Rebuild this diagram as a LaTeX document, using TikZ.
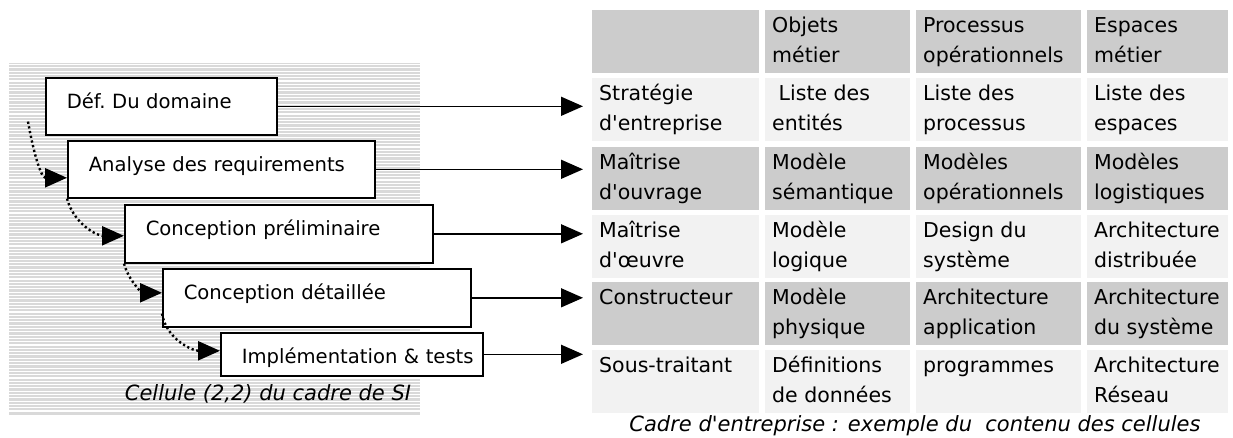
\documentclass[tikz,border=0pt]{standalone}
\usepackage{fontspec}
\setmainfont{DejaVu Sans}
\usetikzlibrary{arrows.meta, calc}

\definecolor{celldark}{HTML}{CCCCCC}
\definecolor{celllight}{HTML}{F2F2F2}
\definecolor{stripe}{HTML}{D9D9D9}

\newcommand{\cellstrut}{\rule{0pt}{17pt}}

\begin{document}
\begin{tikzpicture}[
      x=1pt, y=-1pt, % pixel coordinates, y downwards
      >={Triangle[length=22pt, width=19pt]}, % Default arrow tip
      stage/.style n args={2}{draw, line width=1.6pt, fill=white, anchor=north west,
        inner ysep=0pt, inner xsep=21pt, align=left, text width=#1, text height=30.5pt,
        text depth=#2, font=\fontsize{19.6}{30}\selectfont}, % boxes of the cycle
      flow/.style={line width=1.4pt, ->, shorten >=16pt}, % box to row
      next/.style={line width=2.4pt, dash pattern=on 2.2pt off 2.6pt, ->}, % box to box
      cell/.style={anchor=north west, inner sep=0pt, align=left,
        font=\fontsize{20.5}{30}\selectfont}, % table text
      caption/.style={anchor=base, font=\fontsize{21}{25}\selectfont\itshape},
    ]
    \useasboundingbox (0,0) rectangle (1233,437);

    % Schraffierter Hintergrund
    \fill[stripe] (9,63) rectangle (420,415);
    \foreach \k in {0,...,105}
    \draw[white, line width=1.1pt] (9,64.5+3.3*\k) -- (420,64.5+3.3*\k);

    % Kasten der Stufen
    \node[stage={189pt}{26.5pt}] (def) at (45,77) {Déf.~Du~domaine};
    \node[stage={265pt}{26.5pt}] (ana) at (67,140) {Analyse~des~requirements};
    \node[stage={266pt}{27.5pt}] (pre) at (124,204) {Conception~préliminaire};
    \node[stage={266pt}{27.5pt}] (det) at (162,268) {Conception~détaillée};
    \node[stage={220pt}{12.5pt}] (imp) at (220,332) {Implémentation~\&~tests};

    \node[caption] (cellcap) at (268,400) {Cellule (2,2) du cadre de SI};

    % Zellen der Tabelle
    \foreach \r/\ytop/\col in {0/10/celldark, 1/78/celllight, 2/147/celldark,
        3/215/celllight, 4/282/celldark, 5/350/celllight}
    \foreach \x/\w in {592/167, 765/145, 916/165, 1087/141}
    \fill[\col] (\x,\ytop) rectangle ++(\w,63);

    \foreach \r/\ytop/\ta/\tb/\tc/\td in {
        0/10/{}/{Objets\\métier}/{Processus\\opérationnels}/{Espaces\\métier},
        1/78/{Stratégie\\d\textquotesingle entreprise}/{\ Liste des\\entités}/{Liste des\\processus}/{Liste des\\espaces},
        2/147/{Maîtrise\\d\textquotesingle ouvrage}/{Modèle\\sémantique}/{Modèles\\opérationnels}/{Modèles\\logistiques},
        3/215/{Maîtrise\\d\textquotesingle œuvre}/{Modèle\\logique}/{Design du\\système}/{Architecture\\distribuée},
        4/282/{Constructeur}/{Modèle\\physique}/{Architecture\\application}/{Architecture\\du système},
        5/350/{Sous-traitant}/{Définitions\\de données}/{programmes}/{Architecture\\Réseau}}
    {
      \node[cell] (c\r-0) at (599,\ytop+5) {\cellstrut\ta};
      \node[cell] (c\r-1) at (772,\ytop+5) {\cellstrut\tb};
      \node[cell] (c\r-2) at (923,\ytop+5) {\cellstrut\tc};
      \node[cell] (c\r-3) at (1094,\ytop+5) {\cellstrut\td};
    }

    \node[caption] (framecap) at (915,431) {Cadre d\textquotesingle entreprise : exemple du~ contenu des cellules};

    % Pfeile zur Tabelle
    \foreach \b/\r in {def/1, ana/2, pre/3, det/4, imp/5}
    \draw[flow] (\b.east) -- (\b.east -| c\r-0.west);

    % Punktierte Pfeile zwischen den Stufen
    \draw[next] ([xshift=-17pt, yshift=14pt]def.south west) to[out=-80, in=180] ([yshift=-8.5pt]ana.west);
    \draw[next] (ana.south west) to[out=-75, in=180] ([yshift=-2pt]pre.west);
    \draw[next] (pre.south west) to[out=-75, in=180] ([yshift=5pt]det.west);
    \draw[next] ([yshift=14pt]det.south west) to[out=-80, in=180] ([yshift=3.5pt]imp.west);
  \end{tikzpicture}
\end{document}
